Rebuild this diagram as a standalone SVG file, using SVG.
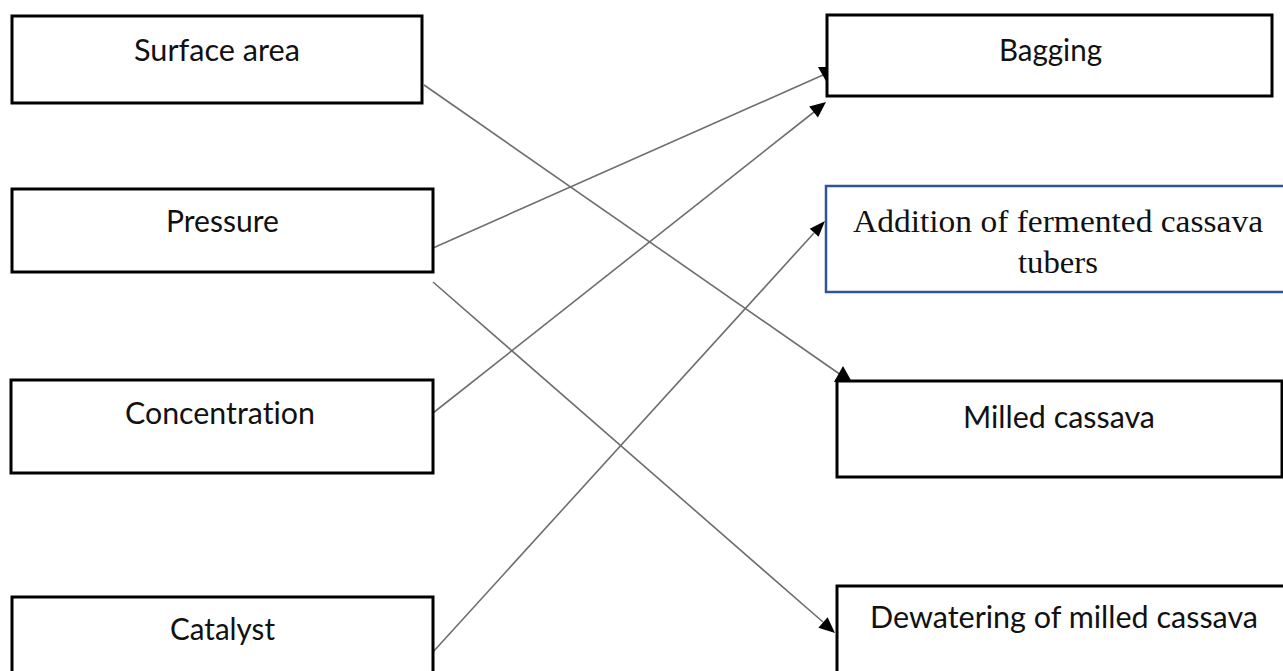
<svg xmlns="http://www.w3.org/2000/svg" width="1283" height="671" viewBox="0 0 1283 671">
<style>
.box{fill:#fff;stroke:#000;stroke-width:3}
.bluebox{fill:#fff;stroke:#2f5597;stroke-width:2.5}
.lbl{font-family:Lato,"Liberation Sans",sans-serif;font-size:30px;fill:#111;text-anchor:middle;font-variant-ligatures:none}
.serif{font-family:"Liberation Serif",serif;font-size:31px;fill:#111;text-anchor:middle}
.edge{stroke:#6e6e6e;stroke-width:1.6;fill:none}
.head{fill:#000}
</style>
<rect width="1283" height="671" fill="#fff"/>
<g id="connectors">
<line class="edge" x1="424" y1="85" x2="841" y2="375"/>
<polygon class="head" points="843,366 834,382 852,382"/>
<line class="edge" x1="433" y1="248" x2="823" y2="75"/>
<polygon class="head" points="818,67 836,67 827,83"/>
<line class="edge" x1="433" y1="413" x2="814" y2="112"/>
<polygon class="head" points="826,102 817.9,117.4 809.2,106.4"/>
<line class="edge" x1="433" y1="652" x2="814" y2="233"/>
<polygon class="head" points="825,221 818.6,236.8 809.8,228.8"/>
<line class="edge" x1="433" y1="282" x2="823" y2="622"/>
<polygon class="head" points="835,633 818.4,627.8 827.6,617.2"/>
</g>
<g id="surface-area">
<rect class="box" x="12" y="16" width="410" height="87"/>
<text class="lbl" x="217" y="61" textLength="166" lengthAdjust="spacingAndGlyphs">Surface area</text>
</g>
<g id="pressure">
<rect class="box" x="12" y="189" width="421" height="83"/>
<text class="lbl" x="222.5" y="232" textLength="113" lengthAdjust="spacingAndGlyphs">Pressure</text>
</g>
<g id="concentration">
<rect class="box" x="11" y="380" width="422" height="93"/>
<text class="lbl" x="220" y="424" textLength="190" lengthAdjust="spacingAndGlyphs">Concentration</text>
</g>
<g id="catalyst">
<rect class="box" x="12" y="597" width="421" height="90"/>
<text class="lbl" x="222.5" y="640" textLength="105" lengthAdjust="spacingAndGlyphs">Catalyst</text>
</g>
<g id="bagging">
<rect class="box" x="827" y="15" width="445" height="81"/>
<text class="lbl" x="1050.5" y="61" textLength="103" lengthAdjust="spacingAndGlyphs">Bagging</text>
</g>
<g id="addition">
<rect class="bluebox" x="826" y="186" width="470" height="106"/>
<text class="serif" x="1058" y="232" textLength="410" lengthAdjust="spacingAndGlyphs">Addition of fermented cassava</text>
<text class="serif" x="1058" y="273" textLength="80" lengthAdjust="spacingAndGlyphs">tubers</text>
</g>
<g id="milled-cassava">
<rect class="box" x="837" y="381" width="445" height="96"/>
<text class="lbl" x="1059" y="428" textLength="192" lengthAdjust="spacingAndGlyphs">Milled cassava</text>
</g>
<g id="dewatering">
<rect class="box" x="837" y="586" width="460" height="100"/>
<text class="lbl" x="1064" y="628" textLength="388" lengthAdjust="spacingAndGlyphs">Dewatering of milled cassava</text>
</g>
</svg>
